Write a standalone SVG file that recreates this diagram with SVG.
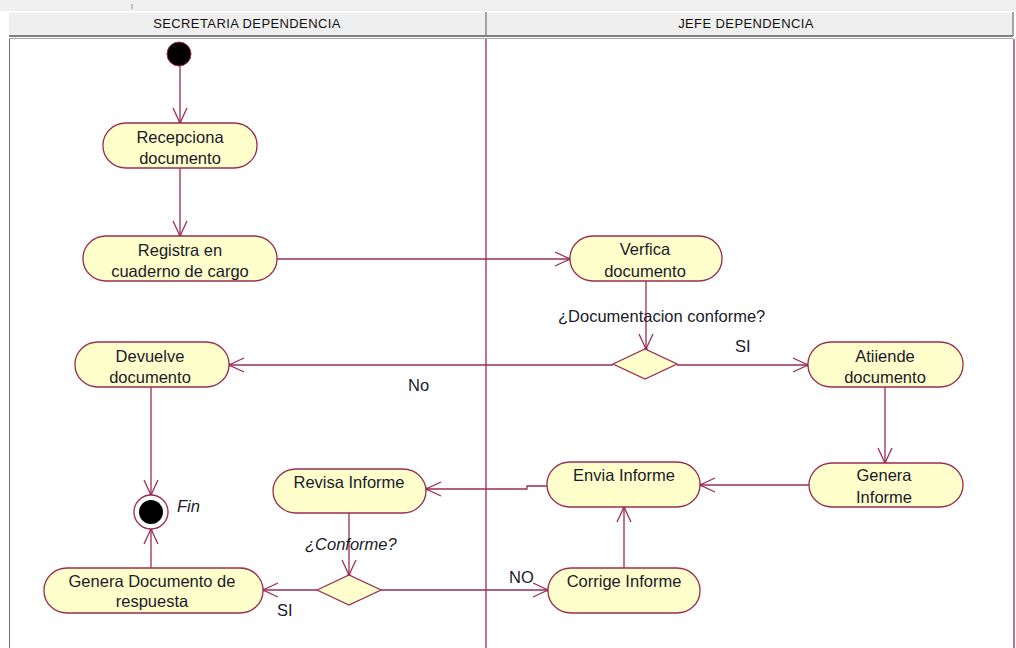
<svg xmlns="http://www.w3.org/2000/svg" width="1016" height="648" viewBox="0 0 1016 648">
<style>
.node{fill:#ffffcc;stroke:#9b2d52;stroke-width:1.3}
.t{font-family:"Liberation Sans",Arial,sans-serif;font-size:16.5px;fill:#1a1a2a;text-anchor:middle}
.lbl{font-family:"Liberation Sans",Arial,sans-serif;font-size:16.5px;fill:#1a1a2a}
.hd{font-family:"Liberation Sans",Arial,sans-serif;font-size:13px;fill:#111;text-anchor:middle;letter-spacing:0.4px}
.c{fill:none;stroke:#9b2d52;stroke-width:1.3}
</style>
<defs>
<marker id="arr" markerUnits="userSpaceOnUse" markerWidth="20" markerHeight="20" viewBox="-16 -10 20 20" refX="0" refY="0" orient="auto">
<path d="M-15,-7 L0,0 L-15,7" fill="none" stroke="#9b2d52" stroke-width="1.3"/>
<circle cx="0" cy="0" r="1.8" fill="#9b2d52"/>
</marker>
</defs>
<rect x="0" y="0" width="1016" height="648" fill="#ffffff"/>
<rect x="0" y="0" width="1016" height="11" fill="#f0f0f0"/>
<line x1="0" y1="11.5" x2="1016" y2="11.5" stroke="#ffffff" stroke-width="1"/>
<line x1="132" y1="4" x2="132" y2="9" stroke="#909090" stroke-width="1"/>
<g id="lanes">
<rect x="9" y="12" width="1004" height="23" fill="#efefef"/>
<line x1="9" y1="12.5" x2="1013" y2="12.5" stroke="#f8f8f8" stroke-width="1"/>
<line x1="486" y1="12" x2="486" y2="36" stroke="#888" stroke-width="1.5"/>
<line x1="1013" y1="12" x2="1013" y2="36" stroke="#888" stroke-width="1.5"/>
<line x1="9" y1="36" x2="1013" y2="36" stroke="#808080" stroke-width="2"/>
<line x1="9" y1="38.5" x2="1013" y2="38.5" stroke="#a8a8a8" stroke-width="1.2"/>
<text class="hd" x="247" y="28">SECRETARIA DEPENDENCIA</text>
<text class="hd" x="746" y="28">JEFE DEPENDENCIA</text>
<line x1="9.5" y1="39" x2="9.5" y2="648" stroke="#707070" stroke-width="1"/>
<line x1="486" y1="39" x2="486" y2="648" stroke="#9b2d52" stroke-width="1.3"/>
<line x1="1014" y1="39" x2="1014" y2="648" stroke="#9b2d52" stroke-width="1.3"/>
</g>
<g id="connectors">
<line class="c" x1="180" y1="66" x2="180" y2="123" marker-end="url(#arr)"/>
<line class="c" x1="180" y1="168" x2="180" y2="236" marker-end="url(#arr)"/>
<line class="c" x1="277" y1="259" x2="570" y2="259" marker-end="url(#arr)"/>
<line class="c" x1="646" y1="281" x2="646" y2="349" marker-end="url(#arr)"/>
<line class="c" x1="677" y1="365" x2="808" y2="365" marker-end="url(#arr)"/>
<line class="c" x1="613" y1="365" x2="229" y2="365" marker-end="url(#arr)"/>
<line class="c" x1="151" y1="387" x2="151" y2="495" marker-end="url(#arr)"/>
<line class="c" x1="885" y1="387" x2="885" y2="463" marker-end="url(#arr)"/>
<line class="c" x1="809" y1="485" x2="700" y2="485" marker-end="url(#arr)"/>
<polyline class="c" points="547,486 527,486 527,489 426,489" marker-end="url(#arr)"/>
<line class="c" x1="349" y1="513" x2="349" y2="575" marker-end="url(#arr)"/>
<line class="c" x1="317" y1="590" x2="263" y2="590" marker-end="url(#arr)"/>
<line class="c" x1="381" y1="590" x2="548" y2="590" marker-end="url(#arr)"/>
<line class="c" x1="624" y1="568" x2="624" y2="507" marker-end="url(#arr)"/>
<line class="c" x1="151" y1="568" x2="151" y2="529" marker-end="url(#arr)"/>
<text class="lbl" x="558" y="322">¿Documentacion conforme?</text>
<text class="lbl" x="735" y="352">SI</text>
<text class="lbl" x="408" y="391">No</text>
<text class="lbl" x="305" y="550" font-style="italic">¿Conforme?</text>
<text class="lbl" x="509" y="583">NO</text>
<text class="lbl" x="277" y="616">SI</text>
</g>
<g id="initial">
<circle cx="179" cy="54" r="12" fill="#000" stroke="#9b2d52" stroke-width="1"/>
</g>
<g id="recepciona">
<rect class="node" x="103" y="123" width="154" height="45" rx="23" ry="22"/>
<text class="t" x="180" y="143">Recepciona</text>
<text class="t" x="180" y="164">documento</text>
</g>
<g id="registra">
<rect class="node" x="83" y="236" width="194" height="45" rx="23" ry="22"/>
<text class="t" x="180" y="256">Registra en</text>
<text class="t" x="180" y="277">cuaderno de cargo</text>
</g>
<g id="verfica">
<rect class="node" x="570" y="236" width="152" height="45" rx="23" ry="22"/>
<text class="t" x="645" y="255">Verfica</text>
<text class="t" x="645" y="277">documento</text>
</g>
<g id="decision1">
<polygon class="node" points="613,364 645,349 677,364 645,379"/>
</g>
<g id="atiende">
<rect class="node" x="808" y="342" width="155" height="45" rx="23" ry="22"/>
<text class="t" x="885" y="362">Atiiende</text>
<text class="t" x="885" y="383">documento</text>
</g>
<g id="devuelve">
<rect class="node" x="75" y="342" width="154" height="45" rx="23" ry="22"/>
<text class="t" x="150" y="362">Devuelve</text>
<text class="t" x="150" y="383">documento</text>
</g>
<g id="genera-informe">
<rect class="node" x="809" y="463" width="154" height="44" rx="23" ry="22"/>
<text class="t" x="884" y="481">Genera</text>
<text class="t" x="884" y="503">Informe</text>
</g>
<g id="envia">
<rect class="node" x="547" y="462" width="153" height="45" rx="23" ry="22"/>
<text class="t" x="624" y="481">Envia Informe</text>
</g>
<g id="revisa">
<rect class="node" x="273" y="469" width="153" height="44" rx="23" ry="22"/>
<text class="t" x="349" y="488">Revisa Informe</text>
</g>
<g id="fin">
<circle cx="151" cy="512" r="17" fill="#fff" stroke="#9b2d52" stroke-width="1.3"/>
<circle cx="151" cy="512" r="12" fill="#000"/>
<text class="lbl" x="177" y="512" font-style="italic">Fin</text>
</g>
<g id="decision2">
<polygon class="node" points="317,590 349,575 381,590 349,605"/>
</g>
<g id="corrige">
<rect class="node" x="548" y="568" width="152" height="45" rx="23" ry="22"/>
<text class="t" x="624" y="587">Corrige Informe</text>
</g>
<g id="genera-doc">
<rect class="node" x="44" y="568" width="219" height="45" rx="23" ry="22"/>
<text class="t" x="152" y="587">Genera Documento de</text>
<text class="t" x="152" y="607">respuesta</text>
</g>
</svg>
